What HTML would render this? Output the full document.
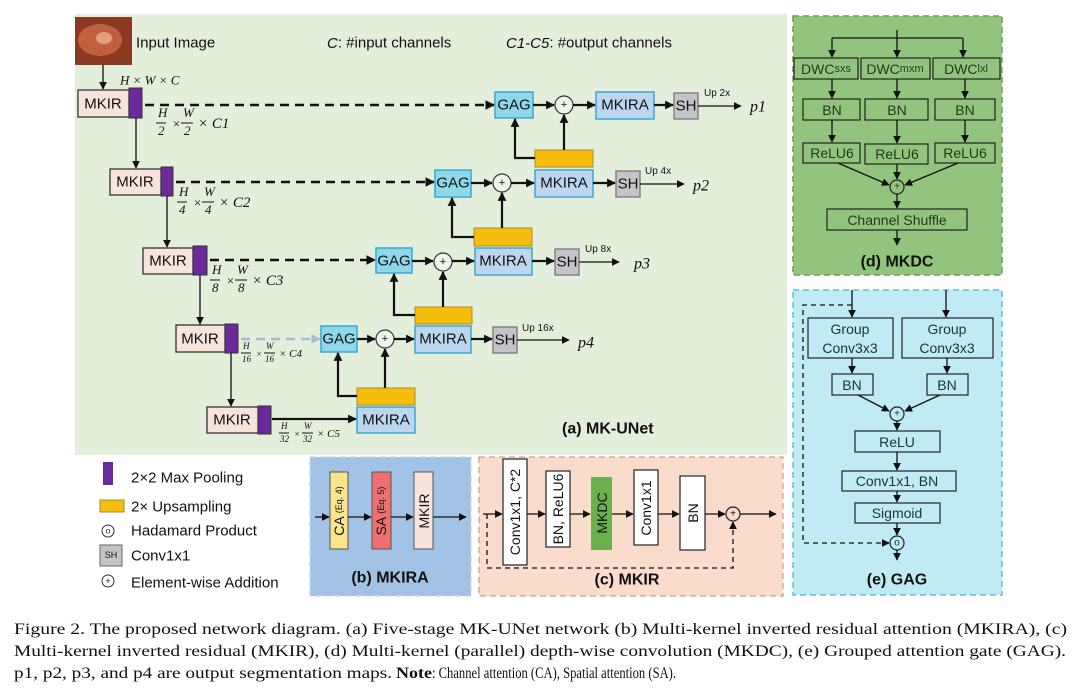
<!DOCTYPE html>
<html><head><meta charset="utf-8"><style>
html,body{margin:0;padding:0;background:#fff;}
svg{display:block;font-family:"Liberation Sans",sans-serif;}
.b{stroke:#222;stroke-width:1.3;}
.t{font-size:15px;fill:#111;text-anchor:middle;dominant-baseline:central;}
.i{font-family:"Liberation Serif",serif;font-style:italic;font-size:13px;fill:#111;}
.ln{stroke:#111;stroke-width:2.2;fill:none;}
.thin{stroke:#111;stroke-width:1.3;fill:none;}
.dash{stroke:#111;stroke-width:2.4;stroke-dasharray:9,6;fill:none;}
.cap{font-family:"Liberation Serif",serif;font-size:16px;fill:#111;}
</style></head><body>
<svg width="1080" height="694" viewBox="0 0 1080 694">
<defs>
<marker id="a" viewBox="0 0 10 10" refX="9" refY="5" markerWidth="4" markerHeight="4" orient="auto"><path d="M0,0L10,5L0,10z" fill="#111"/></marker>
<marker id="s" viewBox="0 0 10 10" refX="9" refY="5" markerWidth="6" markerHeight="6" orient="auto"><path d="M0,0L10,5L0,10z" fill="#111"/></marker>
<marker id="g" viewBox="0 0 10 10" refX="9" refY="5" markerWidth="4" markerHeight="4" orient="auto"><path d="M0,0L10,5L0,10z" fill="#a9bcd6"/></marker>
</defs>
<rect x="0" y="0" width="1080" height="694" fill="#fff"/>
<!-- panel a -->
<rect x="75" y="14" width="712" height="441" fill="#e3eedb"/>
<rect x="75" y="17" width="57" height="48" fill="#8a3a22"/>
<ellipse cx="100" cy="40" rx="22" ry="16" fill="#c0603f"/>
<ellipse cx="104" cy="38" rx="8" ry="6" fill="#e0a080"/>
<text x="136" y="43" style="font-size:15px" fill="#111" dominant-baseline="central">Input Image</text>
<text x="327" y="43" style="font-size:15px" fill="#111" dominant-baseline="central"><tspan font-style="italic">C</tspan>: #input channels</text>
<text x="506" y="43" style="font-size:15px" fill="#111" dominant-baseline="central"><tspan font-style="italic">C1-C5</tspan>: #output channels</text>
<line x1="103" y1="65" x2="103" y2="89" class="thin" marker-end="url(#s)"/>
<text x="120" y="80" class="i" dominant-baseline="central">H × W × C</text>

<!-- encoder -->
<g fill="#f8e4dc" stroke="#333" stroke-width="1.3">
<rect x="78" y="90" width="51" height="27"/><rect x="110" y="169" width="51" height="26"/><rect x="143" y="248" width="50" height="26"/><rect x="176" y="325" width="49" height="27"/><rect x="207" y="407" width="51" height="26"/>
</g>
<g fill="#6a2a9a" stroke="#333" stroke-width="1">
<rect x="129" y="88" width="13" height="30"/><rect x="161" y="167" width="12" height="29"/><rect x="193" y="246" width="14" height="29"/><rect x="225" y="324" width="13" height="29"/><rect x="258" y="406" width="13" height="28"/>
</g>
<g class="t"><text x="103" y="104">MKIR</text><text x="135" y="182">MKIR</text><text x="168" y="261">MKIR</text><text x="200" y="339">MKIR</text><text x="232" y="420">MKIR</text></g>
<line x1="136" y1="118" x2="136" y2="168" class="thin" marker-end="url(#s)"/>
<line x1="167" y1="196" x2="167" y2="247" class="thin" marker-end="url(#s)"/>
<line x1="200" y1="275" x2="200" y2="324" class="thin" marker-end="url(#s)"/>
<line x1="231" y1="353" x2="231" y2="406" class="thin" marker-end="url(#s)"/>

<!-- fractions -->
<g class="i">
<text x="158" y="117">H</text><text x="158" y="135">2</text><line x1="156" y1="123" x2="166" y2="123" stroke="#111"/><text x="172" y="128">×</text><text x="183" y="117">W</text><text x="184" y="135">2</text><line x1="181" y1="123" x2="193" y2="123" stroke="#111"/><text x="198" y="128" style="font-size:15px">× C1</text>
<text x="179" y="196">H</text><text x="179" y="214">4</text><line x1="177" y1="202" x2="187" y2="202" stroke="#111"/><text x="193" y="207">×</text><text x="204" y="196">W</text><text x="205" y="214">4</text><line x1="202" y1="202" x2="214" y2="202" stroke="#111"/><text x="219" y="207" style="font-size:15px">× C2</text>
<text x="212" y="274">H</text><text x="212" y="292">8</text><line x1="210" y1="280" x2="220" y2="280" stroke="#111"/><text x="226" y="285">×</text><text x="237" y="274">W</text><text x="238" y="292">8</text><line x1="235" y1="280" x2="247" y2="280" stroke="#111"/><text x="252" y="285" style="font-size:15px">× C3</text>
<g style="font-size:9px"><text x="243" y="349">H</text><text x="242" y="362">16</text><line x1="241" y1="353" x2="251" y2="353" stroke="#111"/><text x="256" y="357">×</text><text x="266" y="349">W</text><text x="265" y="362">16</text><line x1="264" y1="353" x2="275" y2="353" stroke="#111"/><text x="279" y="357" style="font-size:11px">× C4</text>
<text x="281" y="429">H</text><text x="280" y="442">32</text><line x1="279" y1="433" x2="289" y2="433" stroke="#111"/><text x="294" y="437">×</text><text x="304" y="429">W</text><text x="303" y="442">32</text><line x1="302" y1="433" x2="313" y2="433" stroke="#111"/><text x="317" y="437" style="font-size:11px">× C5</text></g>
</g>

<!-- skip connections -->
<line x1="145" y1="105" x2="494" y2="105" class="dash" marker-end="url(#a)"/>
<line x1="176" y1="182" x2="434" y2="182" class="dash" marker-end="url(#a)"/>
<line x1="210" y1="260" x2="375" y2="260" class="dash" marker-end="url(#a)"/>
<line x1="241" y1="339" x2="320" y2="339" stroke="#a9bcd6" stroke-width="2.4" stroke-dasharray="9,6" marker-end="url(#g)"/>
<line x1="272" y1="419" x2="356" y2="419" class="ln" marker-end="url(#a)"/>

<!-- decoder boxes -->
<g fill="#8fd8ea" stroke="#3aa8d0" stroke-width="1.5">
<rect x="495" y="92" width="38" height="26"/><rect x="435" y="170" width="36" height="27"/><rect x="376" y="248" width="36" height="25"/><rect x="321" y="326" width="36" height="26"/>
</g>
<g fill="#bcd6f0" stroke="#3aa8d0" stroke-width="1.5">
<rect x="596" y="92" width="58" height="27"/><rect x="535" y="170" width="58" height="27"/><rect x="475" y="248" width="57" height="27"/><rect x="415" y="326" width="56" height="27"/><rect x="357" y="407" width="58" height="26"/>
</g>
<g fill="#f5bd0c" stroke="#a88a30" stroke-width="1">
<rect x="535" y="150" width="58" height="17"/><rect x="474" y="228" width="58" height="18"/><rect x="415" y="307" width="57" height="17"/><rect x="357" y="388" width="58" height="17"/>
</g>
<g fill="#c4c4c8" stroke="#777" stroke-width="1.3">
<rect x="674" y="93" width="24" height="26"/><rect x="616" y="171" width="24" height="26"/><rect x="555" y="249" width="24" height="26"/><rect x="493" y="327" width="24" height="26"/>
</g>
<g class="t">
<text x="514" y="105">GAG</text><text x="453" y="183">GAG</text><text x="394" y="261">GAG</text><text x="339" y="339">GAG</text>
<text x="625" y="105">MKIRA</text><text x="564" y="183">MKIRA</text><text x="503" y="261">MKIRA</text><text x="443" y="339">MKIRA</text><text x="386" y="420">MKIRA</text>
<text x="686" y="106">SH</text><text x="628" y="184">SH</text><text x="567" y="262">SH</text><text x="505" y="340">SH</text>
</g>
<g fill="#eef4ea" stroke="#333" stroke-width="1.2">
<circle cx="564" cy="105" r="9"/><circle cx="502" cy="183" r="9"/><circle cx="443" cy="262" r="9"/><circle cx="385" cy="339" r="9"/>
</g>
<g font-size="11" fill="#111" text-anchor="middle" dominant-baseline="central"><text x="564" y="105">+</text><text x="502" y="183">+</text><text x="443" y="262">+</text><text x="385" y="339">+</text></g>
<!-- decoder arrows -->
<g class="ln">
<line x1="533" y1="105" x2="554" y2="105" marker-end="url(#a)"/><line x1="573" y1="105" x2="595" y2="105" marker-end="url(#a)"/><line x1="654" y1="105" x2="673" y2="105" marker-end="url(#a)"/>
<line x1="471" y1="183" x2="492" y2="183" marker-end="url(#a)"/><line x1="511" y1="183" x2="534" y2="183" marker-end="url(#a)"/><line x1="593" y1="183" x2="615" y2="183" marker-end="url(#a)"/>
<line x1="412" y1="261" x2="433" y2="261" marker-end="url(#a)"/><line x1="452" y1="261" x2="474" y2="261" marker-end="url(#a)"/><line x1="532" y1="261" x2="554" y2="261" marker-end="url(#a)"/>
<line x1="357" y1="339" x2="375" y2="339" marker-end="url(#a)"/><line x1="394" y1="339" x2="414" y2="339" marker-end="url(#a)"/><line x1="471" y1="339" x2="492" y2="339" marker-end="url(#a)"/>
<polyline points="535,158 515,158 515,119" marker-end="url(#a)"/><line x1="564" y1="150" x2="564" y2="115" marker-end="url(#a)"/>
<polyline points="474,237 452,237 452,198" marker-end="url(#a)"/><line x1="502" y1="228" x2="502" y2="193" marker-end="url(#a)"/>
<polyline points="415,315 394,315 394,274" marker-end="url(#a)"/><line x1="443" y1="307" x2="443" y2="272" marker-end="url(#a)"/>
<polyline points="357,396 338,396 338,353" marker-end="url(#a)"/><line x1="385" y1="388" x2="385" y2="349" marker-end="url(#a)"/>
</g>
<g class="thin">
<line x1="698" y1="106" x2="741" y2="106" marker-end="url(#s)"/><line x1="640" y1="184" x2="684" y2="184" marker-end="url(#s)"/><line x1="579" y1="262" x2="619" y2="262" marker-end="url(#s)"/><line x1="517" y1="340" x2="569" y2="340" marker-end="url(#s)"/>
</g>
<g font-size="10" fill="#111"><text x="704" y="96">Up 2x</text><text x="645" y="174">Up 4x</text><text x="585" y="252">Up 8x</text><text x="522" y="331">Up 16x</text></g>
<g class="i" style="font-size:16px" dominant-baseline="central"><text x="750" y="107">p1</text><text x="693" y="186">p2</text><text x="634" y="264">p3</text><text x="578" y="343">p4</text></g>
<text x="562" y="429" font-size="16" font-weight="bold" fill="#111" dominant-baseline="central">(a) MK-UNet</text>

<!-- panel d -->
<rect x="793" y="16" width="209" height="259" fill="#93c47d" stroke="#6f9a5a" stroke-width="1.5" stroke-dasharray="6,4"/>
<g class="thin"><line x1="897" y1="30" x2="897" y2="57" marker-end="url(#s)"/><polyline points="897,38 832,38" /><line x1="832" y1="38" x2="832" y2="57" marker-end="url(#s)"/><polyline points="897,38 963,38"/><line x1="963" y1="38" x2="963" y2="57" marker-end="url(#s)"/></g>
<g fill="none" stroke="#222" stroke-width="1.2">
<rect x="794" y="58" width="64" height="21"/><rect x="861" y="58" width="69" height="21"/><rect x="933" y="58" width="67" height="21"/>
<rect x="803" y="99" width="57" height="21"/><rect x="865" y="99" width="63" height="21"/><rect x="935" y="99" width="60" height="21"/>
<rect x="803" y="143" width="57" height="20"/><rect x="865" y="144" width="63" height="20"/><rect x="935" y="143" width="60" height="20"/>
<rect x="827" y="209" width="140" height="21"/>
<circle cx="897" cy="187" r="7"/>
</g>
<g class="t" style="font-size:14px;fill:#1f3a18">
<text x="826" y="69">DWC<tspan font-size="11">sxs</tspan></text><text x="895" y="69">DWC<tspan font-size="11">mxm</tspan></text><text x="966" y="69">DWC<tspan font-size="11">lxl</tspan></text>
<text x="832" y="110">BN</text><text x="897" y="110">BN</text><text x="965" y="110">BN</text>
<text x="832" y="153">ReLU6</text><text x="897" y="154">ReLU6</text><text x="965" y="153">ReLU6</text>
<text x="897" y="220">Channel Shuffle</text><text x="897" y="187" style="font-size:10px">+</text>
</g>
<g class="thin">
<line x1="832" y1="79" x2="832" y2="98" marker-end="url(#s)"/><line x1="897" y1="79" x2="897" y2="98" marker-end="url(#s)"/><line x1="965" y1="79" x2="965" y2="98" marker-end="url(#s)"/>
<line x1="832" y1="120" x2="832" y2="142" marker-end="url(#s)"/><line x1="897" y1="120" x2="897" y2="143" marker-end="url(#s)"/><line x1="965" y1="120" x2="965" y2="142" marker-end="url(#s)"/>
<line x1="838" y1="163" x2="889" y2="185" marker-end="url(#s)"/><line x1="897" y1="164" x2="897" y2="179" marker-end="url(#s)"/><line x1="958" y1="163" x2="905" y2="185" marker-end="url(#s)"/>
<line x1="897" y1="194" x2="897" y2="208" marker-end="url(#s)"/><line x1="897" y1="230" x2="897" y2="245" marker-end="url(#s)"/>
</g>
<text x="897" y="262" class="t" style="font-size:16px;font-weight:bold">(d) MKDC</text>

<!-- panel e -->
<rect x="793" y="290" width="209" height="305" fill="#c0eaf4" stroke="#5bbfd6" stroke-width="1.5" stroke-dasharray="6,4"/>
<g fill="none" stroke="#222" stroke-width="1.2">
<rect x="808" y="318" width="85" height="40"/><rect x="902" y="318" width="91" height="40"/>
<rect x="832" y="374" width="41" height="21"/><rect x="927" y="374" width="41" height="21"/>
<rect x="855" y="431" width="85" height="21"/><rect x="842" y="471" width="114" height="20"/><rect x="855" y="503" width="85" height="20"/>
<circle cx="897" cy="414" r="7"/><circle cx="897" cy="543" r="7"/>
</g>
<g class="t" style="font-size:14px;fill:#1a3440">
<text x="850" y="329">Group</text><text x="850" y="348">Conv3x3</text><text x="947" y="329">Group</text><text x="947" y="348">Conv3x3</text>
<text x="852" y="385">BN</text><text x="947" y="385">BN</text><text x="897" y="442">ReLU</text><text x="897" y="481">Conv1x1, BN</text><text x="897" y="513">Sigmoid</text>
<text x="897" y="414" style="font-size:10px">+</text><text x="897" y="543" style="font-size:10px">o</text>
</g>
<g class="thin">
<line x1="852" y1="290" x2="852" y2="317" marker-end="url(#s)"/><line x1="946" y1="290" x2="946" y2="317" marker-end="url(#s)"/>
<line x1="852" y1="358" x2="852" y2="373" marker-end="url(#s)"/><line x1="947" y1="358" x2="947" y2="373" marker-end="url(#s)"/>
<line x1="858" y1="395" x2="889" y2="411" marker-end="url(#s)"/><line x1="940" y1="395" x2="905" y2="411" marker-end="url(#s)"/>
<line x1="897" y1="421" x2="897" y2="430" marker-end="url(#s)"/><line x1="897" y1="452" x2="897" y2="470" marker-end="url(#s)"/><line x1="897" y1="491" x2="897" y2="502" marker-end="url(#s)"/><line x1="897" y1="523" x2="897" y2="535" marker-end="url(#s)"/><line x1="897" y1="550" x2="897" y2="560" marker-end="url(#s)"/>
<polyline points="852,305 803,305 803,543 889,543" stroke-dasharray="5,4" marker-end="url(#s)"/>
</g>
<text x="897" y="580" class="t" style="font-size:16px;font-weight:bold">(e) GAG</text>

<!-- legend -->
<rect x="103" y="462" width="10" height="23" fill="#6a2a9a"/>
<rect x="100" y="500" width="24" height="12" fill="#f5bd0c" stroke="#a88a30"/>
<circle cx="108" cy="531" r="6" fill="none" stroke="#333"/><text x="108" y="531" class="t" style="font-size:8px">o</text>
<rect x="100" y="545" width="22" height="21" fill="#c4c4c8" stroke="#666"/><text x="111" y="555" class="t" style="font-size:9px">SH</text>
<circle cx="108" cy="581" r="6" fill="none" stroke="#333"/><text x="108" y="581" class="t" style="font-size:9px">+</text>
<g font-size="15" fill="#111" dominant-baseline="central"><text x="131" y="478">2×2 Max Pooling</text><text x="131" y="507">2× Upsampling</text><text x="131" y="531">Hadamard Product</text><text x="131" y="556">Conv1x1</text><text x="131" y="583">Element-wise Addition</text></g>

<!-- panel b -->
<rect x="310" y="457" width="161" height="139" fill="#a3c3e6" stroke="#c8d8e8" stroke-width="1.3" stroke-dasharray="6,4"/>
<rect x="330" y="472" width="18" height="77" fill="#fbe48c" stroke="#555"/>
<rect x="372" y="472" width="19" height="77" fill="#ef6e6e" stroke="#555"/>
<rect x="414" y="472" width="19" height="77" fill="#f8e4dc" stroke="#555"/>
<g class="t" style="font-size:14px">
<text transform="translate(339,511) rotate(-90)">CA <tspan font-size="9">(Eq. 4)</tspan></text>
<text transform="translate(381,511) rotate(-90)">SA <tspan font-size="9">(Eq. 5)</tspan></text>
<text transform="translate(424,511) rotate(-90)">MKIR</text>
</g>
<g class="thin"><line x1="315" y1="517" x2="329" y2="517" marker-end="url(#s)"/><line x1="348" y1="517" x2="371" y2="517" marker-end="url(#s)"/><line x1="391" y1="517" x2="413" y2="517" marker-end="url(#s)"/><line x1="433" y1="517" x2="466" y2="517" marker-end="url(#s)"/></g>
<text x="390" y="578" class="t" style="font-size:16px;font-weight:bold">(b) MKIRA</text>

<!-- panel c -->
<rect x="479" y="457" width="304" height="139" fill="#f9dccb" stroke="#c9a58a" stroke-width="1.3" stroke-dasharray="6,4"/>
<g stroke="#222" stroke-width="1.2">
<rect x="503" y="459" width="24" height="106" fill="#fff"/><rect x="546" y="471" width="24" height="76" fill="#fff"/><rect x="591" y="477" width="21" height="73" fill="#6ab04c" stroke="none"/><rect x="634" y="470" width="24" height="75" fill="#fff"/><rect x="680" y="476" width="25" height="74" fill="#fff"/>
<circle cx="733" cy="514" r="7" fill="none"/>
</g>
<g class="t" style="font-size:14px">
<text transform="translate(515,512) rotate(-90)">Conv1x1, C*2</text><text transform="translate(558,509) rotate(-90)">BN, ReLU6</text><text transform="translate(602,513) rotate(-90)">MKDC</text><text transform="translate(646,508) rotate(-90)">Conv1x1</text><text transform="translate(693,513) rotate(-90)">BN</text>
<text x="733" y="514" style="font-size:10px">+</text>
</g>
<g class="thin">
<line x1="483" y1="514" x2="502" y2="514" marker-end="url(#s)"/><line x1="527" y1="514" x2="545" y2="514" marker-end="url(#s)"/><line x1="570" y1="514" x2="590" y2="514" marker-end="url(#s)"/><line x1="612" y1="514" x2="633" y2="514" marker-end="url(#s)"/><line x1="658" y1="514" x2="679" y2="514" marker-end="url(#s)"/><line x1="705" y1="514" x2="725" y2="514" marker-end="url(#s)"/><line x1="740" y1="514" x2="776" y2="514" marker-end="url(#s)"/>
<polyline points="487,514 487,568 733,568 733,522" stroke-dasharray="5,4" marker-end="url(#s)"/>
</g>
<text x="627" y="580" class="t" style="font-size:16px;font-weight:bold">(c) MKIR</text>

<!-- caption -->
<text x="14" y="634" class="cap" textLength="1053" lengthAdjust="spacingAndGlyphs">Figure 2.  The proposed network diagram.  (a) Five-stage MK-UNet network (b) Multi-kernel inverted residual attention (MKIRA), (c)</text>
<text x="14" y="656" class="cap" textLength="1052" lengthAdjust="spacingAndGlyphs">Multi-kernel inverted residual (MKIR), (d) Multi-kernel (parallel) depth-wise convolution (MKDC), (e) Grouped attention gate (GAG).</text>
<text x="14" y="678" class="cap" textLength="378" lengthAdjust="spacingAndGlyphs">p1, p2, p3, and p4 are output segmentation maps.</text>
<text x="396" y="678" class="cap" font-weight="bold" textLength="36" lengthAdjust="spacingAndGlyphs">Note</text>
<text x="432" y="678" class="cap" textLength="244" lengthAdjust="spacingAndGlyphs">: Channel attention (CA), Spatial attention (SA).</text>
</svg>
</body></html>
